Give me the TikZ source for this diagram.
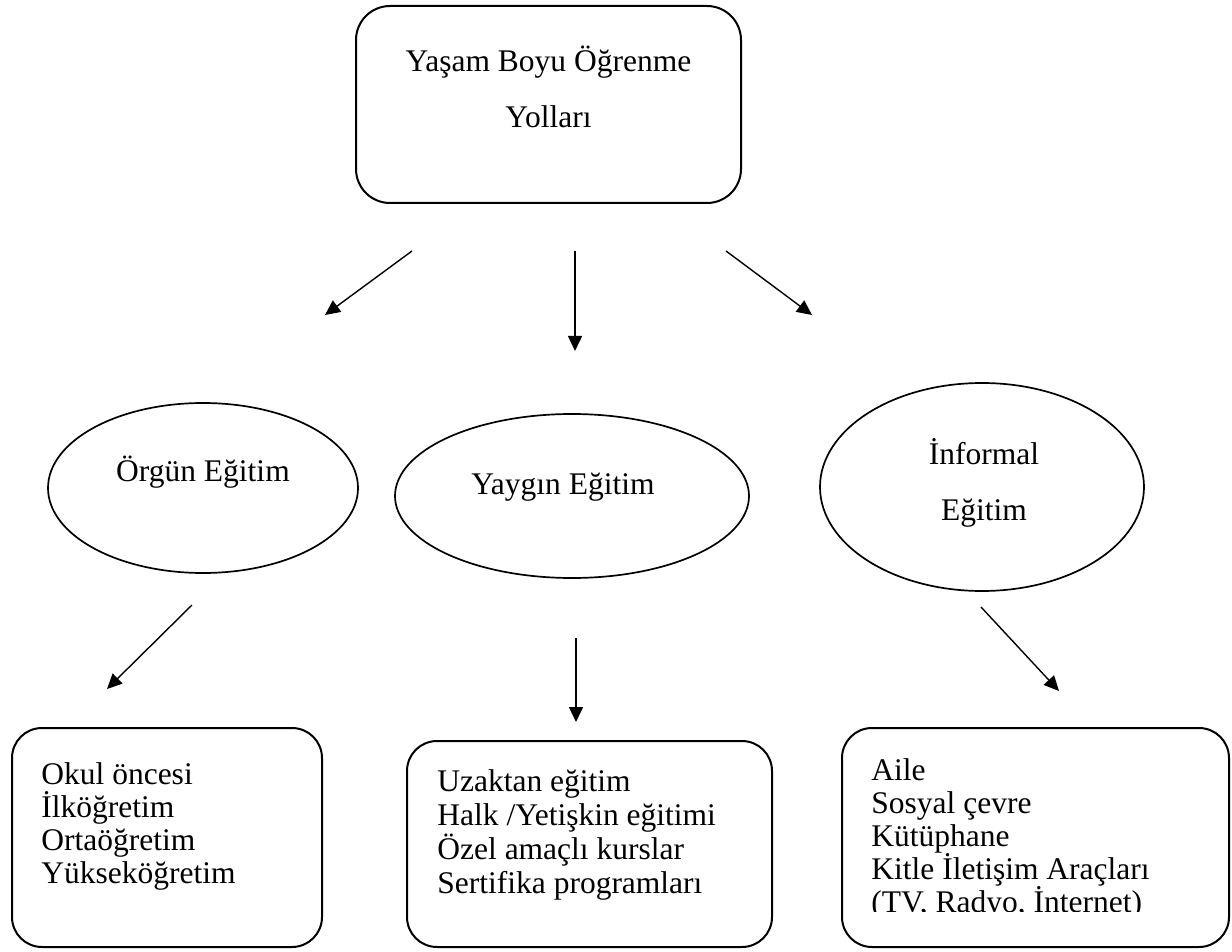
\documentclass[tikz,border=0pt]{standalone}
\usepackage{fontspec}
\setmainfont{Liberation Serif}
\usetikzlibrary{positioning, shapes.geometric, arrows.meta}

\begin{document}
\begin{tikzpicture}[x=0.5pt, y=-0.5pt,
  every node/.style={font=\fontsize{15.75pt}{28pt}\selectfont},
  topbox/.style={draw, line width=1pt, rounded corners=17pt, minimum width=192.5pt, minimum height=98.5pt},
  oval/.style={draw, ellipse, line width=0.85pt, inner sep=0pt},
  listbox/.style={draw, line width=1pt, rounded corners=15pt, inner sep=0pt},
  listtext/.style={anchor=north west, align=left, inner sep=0pt},
  arr/.style={-{Triangle[length=7.5pt, width=7pt]}, line width=0.7pt}]
\useasboundingbox (0,0) rectangle (1232,952);

% Nodes
\node[topbox, label={[yshift=9pt, align=center]center:Yaşam Boyu Öğrenme\\Yolları}] (top) at (548.5,104.5) {};

\node[oval, minimum width=155pt, minimum height=85pt, label={[yshift=7.75pt]center:Örgün Eğitim}] (orgun) at (203,488) {};
\node[oval, minimum width=177pt, minimum height=82pt, label={[xshift=-4.5pt, yshift=4.25pt]center:Yaygın Eğitim}] (yaygin) at (572,496) {};
\node[oval, minimum width=162pt, minimum height=104pt, label={[xshift=1pt, yshift=2.25pt, align=center]center:İnformal\\Eğitim}] (informal) at (982,487) {};

\node[listbox, minimum width=155pt, minimum height=109.5pt] (orgunlist) at (167,837.5) {};
\node[listbox, minimum width=182.5pt, minimum height=103pt] (yayginlist) at (589.5,844) {};
\node[listbox, minimum width=193.5pt, minimum height=109.5pt] (informallist) at (1035.5,837.5) {};

\node[listtext, font=\fontsize{15.75pt}{16.5pt}\selectfont] (orguntext) at ([shift={(15pt,-17.5pt)}]orgunlist.north west) {Okul öncesi\\İlköğretim\\Ortaöğretim\\Yükseköğretim};
\node[listtext, font=\fontsize{15.75pt}{17pt}\selectfont] (yaygintext) at ([shift={(15.5pt,-14.5pt)}]yayginlist.north west) {Uzaktan eğitim\\Halk /Yetişkin eğitimi\\Özel amaçlı kurslar\\Sertifika programları};
\begin{scope}
% last line cut at its baseline
\clip (informallist.north west) rectangle ([yshift=18.25pt]informallist.south east);
\node[listtext, font=\fontsize{15.75pt}{16.5pt}\selectfont] (informaltext) at ([shift={(15pt,-15.5pt)}]informallist.north west) {Aile\\Sosyal çevre\\Kütüphane\\Kitle İletişim Araçları\\(TV, Radyo, İnternet)};
\end{scope}

% Edges
\coordinate (topL) at (412,251);
\coordinate (orgunT) at (325,315);
\coordinate (topM) at (575,251);
\coordinate (yayginT) at (575,351);
\coordinate (topR) at (726,251);
\coordinate (informalT) at (812,315);
\coordinate (orgunB) at (192,605);
\coordinate (orgunlistT) at (107,689);
\coordinate (yayginB) at (576,638);
\coordinate (yayginlistT) at (576,722);
\coordinate (informalB) at (981,607);
\coordinate (informallistT) at (1059,691);

\draw[arr] (topL) -- (orgunT);
\draw[arr] (topM) -- (yayginT);
\draw[arr] (topR) -- (informalT);
\draw[arr] (orgunB) -- (orgunlistT);
\draw[arr] (yayginB) -- (yayginlistT);
\draw[arr] (informalB) -- (informallistT);

\end{tikzpicture}
\end{document}
